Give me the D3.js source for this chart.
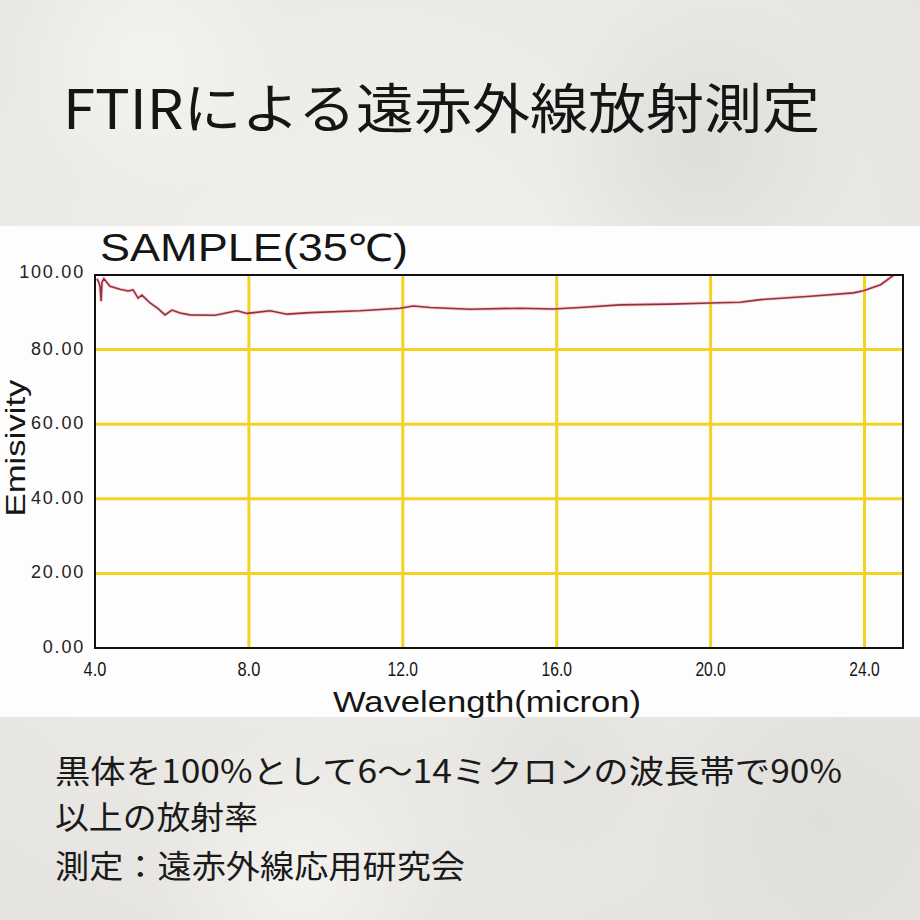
<!DOCTYPE html>
<html><head><meta charset="utf-8">
<script src="https://cdn.jsdelivr.net/npm/d3@7/dist/d3.min.js"></script>
<style>html,body{margin:0;padding:0;background:#e8e7e3;}svg{display:block;}</style>
</head><body>
<svg id="c" width="920" height="920"></svg>
<script>
const wavelength = [4.05,4.10,4.13,4.16,4.18,4.23,4.39,4.65,4.86,4.99,5.12,5.22,5.43,5.64,5.82,6.00,6.21,6.47,7.12,7.69,7.95,8.55,8.99,9.59,10.89,11.93,12.27,12.71,13.75,15.05,15.91,16.61,17.65,18.95,19.99,20.77,21.30,22.60,23.71,23.97,24.42,24.75,24.90];
const emissivity = [99.0,98.0,97.0,93.0,98.0,99.0,97.0,96.2,95.7,96.0,93.8,94.6,92.5,91.0,89.3,90.6,89.8,89.3,89.2,90.4,89.7,90.4,89.5,89.9,90.4,91.1,91.7,91.3,90.8,91.1,90.9,91.3,92.0,92.2,92.5,92.7,93.4,94.3,95.2,95.8,97.4,99.9,100.5];
const xTicks = [4,8,12,16,20,24];
const yTicks = [0,20,40,60,80,100];
const titleText = "FTIRによる遠赤外線放射測定";
const chartTitle = "SAMPLE(35℃)";
const xLabel = "Wavelength(micron)";
const yLabel = "Emisivity";
const notes = ["黒体を100%として6〜14ミクロンの波長帯で90%","以上の放射率","測定：遠赤外線応用研究会"];

const svg = d3.select("#c");
const defs = svg.append("defs");
// paper background
const rg = defs.append("radialGradient").attr("id","paper").attr("cx","40%").attr("cy","35%").attr("r","80%");
rg.append("stop").attr("offset","0%").attr("stop-color","#f2f1ee");
rg.append("stop").attr("offset","100%").attr("stop-color","#e4e3df");
svg.append("rect").attr("width",920).attr("height",920).attr("fill","url(#paper)");
const blobs = [[150,60,140,"#f5f4f1"],[700,150,160,"#dedcd8"],[820,820,180,"#dfded9"],[300,880,150,"#f4f3f0"],[560,760,120,"#e2e1dd"]];
blobs.forEach((b,i)=>{
  const g = defs.append("radialGradient").attr("id","b"+i);
  g.append("stop").attr("offset","0%").attr("stop-color",b[3]).attr("stop-opacity",0.9);
  g.append("stop").attr("offset","100%").attr("stop-color",b[3]).attr("stop-opacity",0);
  svg.append("circle").attr("cx",b[0]).attr("cy",b[1]).attr("r",b[2]).attr("fill","url(#b"+i+")");
});

// title
svg.append("text").attr("x",63).attr("y",129).attr("font-family","'Noto Sans CJK JP',sans-serif")
  .attr("font-size",54).attr("fill","#151515").attr("textLength",757).attr("lengthAdjust","spacingAndGlyphs").text(titleText);

// white panel
svg.append("rect").attr("x",0).attr("y",226).attr("width",920).attr("height",491).attr("fill","#fdfdfd");

const m = {l:95,r:903,t:275,b:648};
const x = d3.scaleLinear().domain([4,25]).range([m.l,m.r]);
const y = d3.scaleLinear().domain([0,100]).range([m.b,m.t]);

// grid
svg.append("g").selectAll("line").data(xTicks.filter(d=>d>4)).join("line")
  .attr("x1",d=>x(d)).attr("x2",d=>x(d)).attr("y1",m.t).attr("y2",m.b)
  .attr("stroke","#f3d320").attr("stroke-width",3);
svg.append("g").selectAll("line").data(yTicks.filter(d=>d>0&&d<100)).join("line")
  .attr("x1",m.l).attr("x2",m.r).attr("y1",d=>y(d)).attr("y2",d=>y(d))
  .attr("stroke","#f3d320").attr("stroke-width",3);

// curve
defs.append("clipPath").attr("id","clip").append("rect").attr("x",m.l).attr("y",m.t).attr("width",m.r-m.l).attr("height",m.b-m.t);
const line = d3.line().x((d,i)=>x(wavelength[i])).y(d=>y(d)).curve(d3.curveLinear);
svg.append("path").datum(emissivity).attr("d",line).attr("fill","none").attr("stroke","#f2b8bf")
  .attr("stroke-width",3.5).attr("opacity",0.6).attr("clip-path","url(#clip)");
svg.append("path").datum(emissivity).attr("d",line).attr("fill","none").attr("stroke","#9a2f3c")
  .attr("stroke-width",1.6).attr("clip-path","url(#clip)");

// frame
svg.append("rect").attr("x",m.l).attr("y",m.t).attr("width",m.r-m.l).attr("height",m.b-m.t)
  .attr("fill","none").attr("stroke","#111").attr("stroke-width",2);

// x tick labels
const fmtX = d3.format(".1f");
svg.append("g").selectAll("text").data(xTicks).join("text")
  .attr("x",d=>x(d)).attr("y",m.b+28).attr("text-anchor","middle")
  .attr("font-family","'Liberation Sans',Arial,sans-serif").attr("font-size",21).attr("fill","#151515")
  .attr("textLength",d=>fmtX(d).length*7.6).attr("lengthAdjust","spacingAndGlyphs")
  .text(d=>fmtX(d));

const yAxis = svg.append("g").attr("transform",`translate(${m.l},0)`)
  .call(d3.axisLeft(y).tickValues(yTicks).tickFormat(d3.format(".2f")).tickSize(0).tickPadding(10));
yAxis.select(".domain").remove();
yAxis.selectAll("text").attr("font-family","'Liberation Sans',Arial,sans-serif")
  .attr("font-size",18).attr("fill","#222").attr("letter-spacing","1.8px").attr("dy","0.25em");
yAxis.selectAll(".tick").filter(d=>d===100).select("text").attr("dy","0.15em");

// chart title
svg.append("text").attr("x",100).attr("y",261).attr("font-family","'Liberation Sans',Arial,sans-serif")
  .attr("font-size",38).attr("fill","#151515").attr("textLength",308).attr("lengthAdjust","spacingAndGlyphs").text(chartTitle);

// axis labels
svg.append("text").attr("x",487).attr("y",712).attr("text-anchor","middle").attr("font-family","'Liberation Sans',Arial,sans-serif")
  .attr("font-size",29).attr("fill","#151515").attr("textLength",308).attr("lengthAdjust","spacingAndGlyphs").text(xLabel);
svg.append("text").attr("transform","translate(25,448) rotate(-90)").attr("text-anchor","middle")
  .attr("font-family","'Liberation Sans',Arial,sans-serif").attr("font-size",28).attr("fill","#151515")
  .attr("textLength",137).attr("lengthAdjust","spacingAndGlyphs").text(yLabel);

// notes
const noteY = [783,829,878];
const noteLen = [787,203,410];
svg.append("g").selectAll("text").data(notes).join("text")
  .attr("x",55).attr("y",(d,i)=>noteY[i]).attr("font-family","'Noto Sans CJK JP',sans-serif")
  .attr("font-size",32).attr("fill","#1a1a1a").attr("textLength",(d,i)=>noteLen[i]).attr("lengthAdjust","spacingAndGlyphs")
  .text(d=>d);
</script>
</body></html>
